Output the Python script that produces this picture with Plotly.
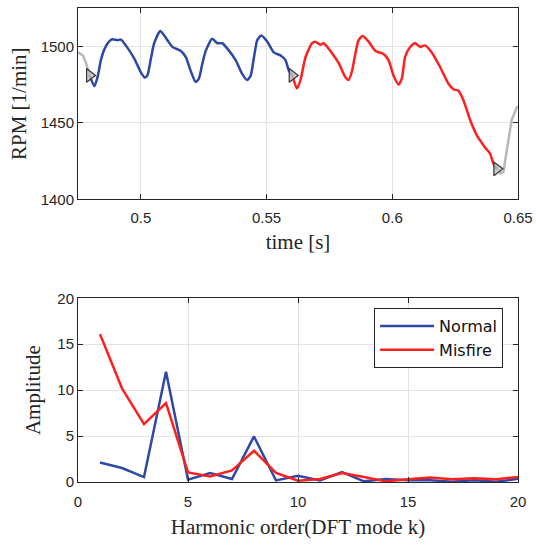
import plotly.graph_objects as go

# ---- top panel: RPM time series ----
t_gray1 = [0.4750, 0.4770, 0.4782, 0.4790, 0.4796]
rpm_gray1 = [1496, 1494, 1489, 1484, 1481]

t_normal = [0.4796, 0.4815, 0.4828, 0.4841, 0.4855, 0.4868, 0.4885, 0.4907, 0.4921, 0.4940,
            0.4974, 0.5000, 0.5016, 0.5026, 0.5040, 0.5053, 0.5077, 0.5093, 0.5110, 0.5126,
            0.5159, 0.5179, 0.5198, 0.5218, 0.5231, 0.5245, 0.5258, 0.5284, 0.5304, 0.5324,
            0.5344, 0.5377, 0.5403, 0.5423, 0.5437, 0.5450, 0.5463, 0.5479, 0.5503, 0.5529,
            0.5556, 0.5575, 0.5589, 0.5602]
rpm_normal = [1481, 1474, 1480, 1491, 1498, 1502, 1504.6, 1504, 1504.4, 1500.6,
              1492, 1483, 1479.6, 1481, 1492, 1502, 1510, 1507, 1503, 1499.5,
              1497, 1493, 1484, 1476.7, 1479, 1489, 1497, 1505, 1502, 1502,
              1498.5, 1491, 1482, 1478, 1481, 1493, 1504, 1507, 1503, 1496,
              1494, 1491, 1484, 1481]

t_misfire = [0.5602, 0.5621, 0.5635, 0.5655, 0.5681, 0.5694, 0.5714, 0.5727, 0.5754, 0.5787,
             0.5813, 0.5827, 0.5840, 0.5853, 0.5866, 0.5882, 0.5906, 0.5933, 0.5965, 0.5985,
             0.6005, 0.6025, 0.6038, 0.6051, 0.6071, 0.6091, 0.6111, 0.6130, 0.6157, 0.6190,
             0.6223, 0.6243, 0.6263, 0.6283, 0.6310, 0.6336, 0.6369, 0.6389, 0.6402, 0.6416]
rpm_misfire = [1481, 1472.4, 1478, 1493, 1502, 1503, 1501, 1502, 1497, 1489,
               1480, 1478, 1484, 1495, 1504, 1506.7, 1503, 1497, 1495, 1491,
               1481, 1475, 1479, 1493, 1499.5, 1502, 1499.6, 1500.6, 1496, 1486.5,
               1475.7, 1472, 1471, 1464.8, 1451.7, 1442, 1434, 1430, 1423.5, 1420]

t_gray2 = [0.6416, 0.6430, 0.6442, 0.6456, 0.6475, 0.6495, 0.6500]
rpm_gray2 = [1420, 1417, 1418, 1432, 1452, 1460, 1461]

t_marks = [0.4796, 0.5602, 0.6416]
rpm_marks = [1481, 1481, 1420]

# ---- bottom panel: DFT amplitudes ----
k = list(range(1, 21))
amp_normal = [2.13, 1.52, 0.54, 12.0, 0.25, 0.97, 0.33, 4.96, 0.17, 0.68,
              0.17, 1.09, 0.07, 0.33, 0.2, 0.2, 0.02, 0.2, 0.02, 0.35]
amp_misfire = [16.1, 10.2, 6.3, 8.6, 1.05, 0.6, 1.27, 3.4, 1.0, 0.14,
               0.33, 0.97, 0.54, 0.07, 0.3, 0.5, 0.3, 0.4, 0.3, 0.55]

BLUE = "#2E48A6"
RED = "#FF1F1F"
GRAY = "#B8B8B8"

fig = go.Figure()
fig.add_trace(go.Scatter(x=t_gray1, y=rpm_gray1, mode="lines", line=dict(color=GRAY, width=2.5),
                         showlegend=False, xaxis="x", yaxis="y"))
fig.add_trace(go.Scatter(x=t_gray2, y=rpm_gray2, mode="lines", line=dict(color=GRAY, width=2.5),
                         showlegend=False, xaxis="x", yaxis="y"))
fig.add_trace(go.Scatter(x=t_normal, y=rpm_normal, mode="lines",
                         line=dict(color=BLUE, width=2.5, shape="spline", smoothing=0.6),
                         showlegend=False, xaxis="x", yaxis="y"))
fig.add_trace(go.Scatter(x=t_misfire, y=rpm_misfire, mode="lines",
                         line=dict(color=RED, width=2.5, shape="spline", smoothing=0.6),
                         showlegend=False, xaxis="x", yaxis="y"))
fig.add_trace(go.Scatter(x=t_marks, y=rpm_marks, mode="markers",
                         marker=dict(symbol="triangle-right", size=12, color="rgba(190,190,190,0.8)",
                                     line=dict(color="#333333", width=1.2)),
                         showlegend=False, xaxis="x", yaxis="y"))

fig.add_trace(go.Scatter(x=k, y=amp_normal, mode="lines", name="Normal",
                         line=dict(color=BLUE, width=2.5), xaxis="x2", yaxis="y2"))
fig.add_trace(go.Scatter(x=k, y=amp_misfire, mode="lines", name="Misfire",
                         line=dict(color=RED, width=2.5), xaxis="x2", yaxis="y2"))

tickfont = dict(family="Liberation Sans, Arial", size=15, color="#262626")
titlefont = dict(family="Liberation Serif, Times New Roman", size=21, color="#262626")
axis_common = dict(showline=True, linecolor="#262626", linewidth=1, mirror="ticks",
                   ticks="inside", ticklen=5, tickcolor="#262626",
                   showgrid=True, gridcolor="#E3E3E3", gridwidth=1,
                   zeroline=False, tickfont=tickfont, automargin=False)

fig.update_layout(
    width=536, height=545,
    margin=dict(l=78, r=18, t=8, b=63, autoexpand=False),
    paper_bgcolor="white", plot_bgcolor="white",
    xaxis=dict(domain=[0, 1], anchor="y", range=[0.475, 0.65],
               tickvals=[0.5, 0.55, 0.6, 0.65], ticktext=["0.5", "0.55", "0.6", "0.65"],
               ticklabelstandoff=5,
               title=dict(text="time [s]", font=titlefont, standoff=8), **axis_common),
    yaxis=dict(domain=[0.596, 1], anchor="x", range=[1400, 1525],
               tickvals=[1400, 1450, 1500],
               title=dict(text="RPM [1/min]", font=titlefont, standoff=8), **axis_common),
    xaxis2=dict(domain=[0, 1], anchor="y2", range=[0, 20],
                tickvals=[0, 5, 10, 15, 20], ticklabelstandoff=6,
                title=dict(text="Harmonic order(DFT mode k)", font=titlefont, standoff=10), **axis_common),
    yaxis2=dict(domain=[0, 0.3875], anchor="x2", range=[0, 20],
                tickvals=[0, 5, 10, 15, 20],
                title=dict(text="Amplitude", font=titlefont, standoff=10), **axis_common),
    legend=dict(x=0.673, y=0.367, xanchor="left", yanchor="top",
                bgcolor="white", bordercolor="#262626", borderwidth=1,
                font=dict(family="DejaVu Sans", size=16, color="#111111"),
                tracegroupgap=0, itemwidth=54),
    showlegend=True,
)

fig.write_html("out.html")
